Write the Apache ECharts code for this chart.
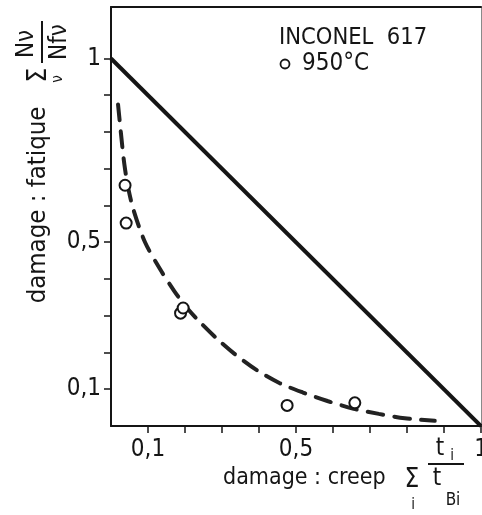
<!DOCTYPE html>
<html>
<head>
<meta charset="utf-8">
<script src="https://cdn.jsdelivr.net/npm/echarts@6/dist/echarts.min.js"></script>
<style>
  html, body { margin: 0; padding: 0; background: #ffffff; }
  #chart { width: 482px; height: 515px; }
</style>
</head>
<body>
<div id="chart"></div>
<script>
// Creep-fatigue interaction diagram, INCONEL 617 at 950 °C

// Linear damage rule: fatigue + creep = 1
const ruleCreep = [0, 1];
const ruleFatigue = [1, 0];

// Fitted interaction curve (dashed)
const curveCreep   = [0.019, 0.027, 0.036, 0.047, 0.062, 0.092, 0.130, 0.171, 0.205, 0.240, 0.289, 0.333, 0.394, 0.455, 0.519, 0.585, 0.656, 0.724, 0.794, 0.875];
const curveFatigue = [0.875, 0.795, 0.713, 0.645, 0.584, 0.500, 0.431, 0.367, 0.322, 0.283, 0.235, 0.197, 0.152, 0.117, 0.091, 0.068, 0.047, 0.033, 0.021, 0.014];

// Test results at 950 °C
const testCreep   = [0.038, 0.041, 0.188, 0.195, 0.476, 0.659];
const testFatigue = [0.655, 0.552, 0.307, 0.321, 0.056, 0.063];

// Axis ticks and labelled values
const xTicks = [0.1, 0.2, 0.3, 0.4, 0.5, 0.6, 0.7, 0.8, 0.9, 1.0];
const yTicks = [0.1, 0.2, 0.3, 0.4, 0.5, 0.6, 0.7, 0.8, 0.9, 1.0];
const xTickLabels = [0.1, 0.5, 1];
const yTickLabels = [0.1, 0.5, 1];

const FONT = '"DejaVu Sans Condensed", "DejaVu Sans", sans-serif';
const INK = '#151515';

const pairs = (xs, ys) => xs.map((x, i) => [x, ys[i]]);
const fmt = v => String(v).replace('.', ',');

const chart = echarts.init(document.getElementById('chart'), null, { renderer: 'canvas' });

function txt(text, x, y, size, extra) {
  const el = {
    type: 'text',
    x: x, y: y,
    silent: true,
    style: {
      text: text,
      fontFamily: FONT,
      fontSize: size,
      fill: INK,
      align: 'center',
      verticalAlign: 'middle'
    }
  };
  if (extra && extra.rotation !== undefined) el.rotation = extra.rotation;
  if (extra && extra.align) el.style.align = extra.align;
  return el;
}

const R = Math.PI / 2;

chart.setOption({
  animation: false,
  backgroundColor: '#ffffff',
  grid: { left: 111, right: 1, top: 7, bottom: 89, containLabel: false, outerBoundsMode: 'none' },
  xAxis: [{
    type: 'value', min: 0, max: 1,
    axisLine: { show: true, onZero: false, lineStyle: { color: INK, width: 2 } },
    axisTick: { show: true, customValues: xTicks, length: 7, lineStyle: { color: INK, width: 1.5 } },
    axisLabel: { customValues: xTickLabels, formatter: fmt, fontFamily: FONT, fontSize: 24, color: INK, margin: 12 },
    splitLine: { show: false }
  }, {
    type: 'value', min: 0, max: 1, position: 'top',
    axisLine: { show: true, onZero: false, lineStyle: { color: INK, width: 2 } },
    axisTick: { show: false }, axisLabel: { show: false }, splitLine: { show: false }
  }],
  yAxis: [{
    type: 'value', min: 0, max: 1.14,
    axisLine: { show: true, onZero: false, lineStyle: { color: INK, width: 2 } },
    axisTick: { show: true, customValues: yTicks, length: 7, lineStyle: { color: INK, width: 1.5 } },
    axisLabel: { customValues: yTickLabels, formatter: fmt, fontFamily: FONT, fontSize: 24, color: INK, margin: 10 },
    splitLine: { show: false }
  }, {
    type: 'value', min: 0, max: 1.14, position: 'right',
    axisLine: { show: true, onZero: false, lineStyle: { color: '#8a8a8a', width: 1 } },
    axisTick: { show: false }, axisLabel: { show: false }, splitLine: { show: false }
  }],
  series: [{
    type: 'line',
    data: pairs(ruleCreep, ruleFatigue),
    showSymbol: false,
    lineStyle: { color: INK, width: 4 },
    z: 3
  }, {
    type: 'line',
    data: pairs(curveCreep, curveFatigue),
    smooth: 0.3,
    showSymbol: false,
    lineStyle: { color: '#222222', width: 4, type: [16, 11], cap: 'round' },
    z: 2
  }, {
    type: 'scatter',
    data: pairs(testCreep, testFatigue),
    symbol: 'circle',
    symbolSize: 11,
    itemStyle: { color: '#ffffff', borderColor: INK, borderWidth: 2, opacity: 1 },
    z: 4
  }],
  graphic: [
    // annotation
    txt('INCONEL  617', 279, 38, 23.5, { align: 'left' }),
    { type: 'circle', shape: { cx: 285, cy: 64, r: 4.5 }, style: { fill: 'none', stroke: INK, lineWidth: 1.8 }, silent: true },
    txt('950°C', 302, 64, 24, { align: 'left' }),

    // y axis title
    txt('damage : fatique', 38, 205, 25.5, { rotation: R }),
    txt('\u03A3', 39, 75, 26, { rotation: R }),
    txt('\u03BD', 58, 79, 15, { rotation: R }),
    txt('N\u03BD', 27, 44, 24, { rotation: R }),
    { type: 'line', shape: { x1: 42, y1: 21, x2: 42, y2: 63 }, style: { stroke: INK, lineWidth: 2 }, silent: true },
    txt('Nf\u03BD', 60, 42, 24, { rotation: R }),

    // x axis title
    txt('damage : creep', 223, 478, 23, { align: 'left' }),
    txt('\u03A3', 412, 480, 26),
    txt('i', 413, 505, 15),
    txt('t', 440, 449, 24),
    txt('i', 452, 456, 15),
    { type: 'line', shape: { x1: 428, y1: 464, x2: 464, y2: 464 }, style: { stroke: INK, lineWidth: 2 }, silent: true },
    txt('t', 437, 479, 24),
    txt('Bi', 453, 501, 17)
  ]
});
</script>
</body>
</html>
